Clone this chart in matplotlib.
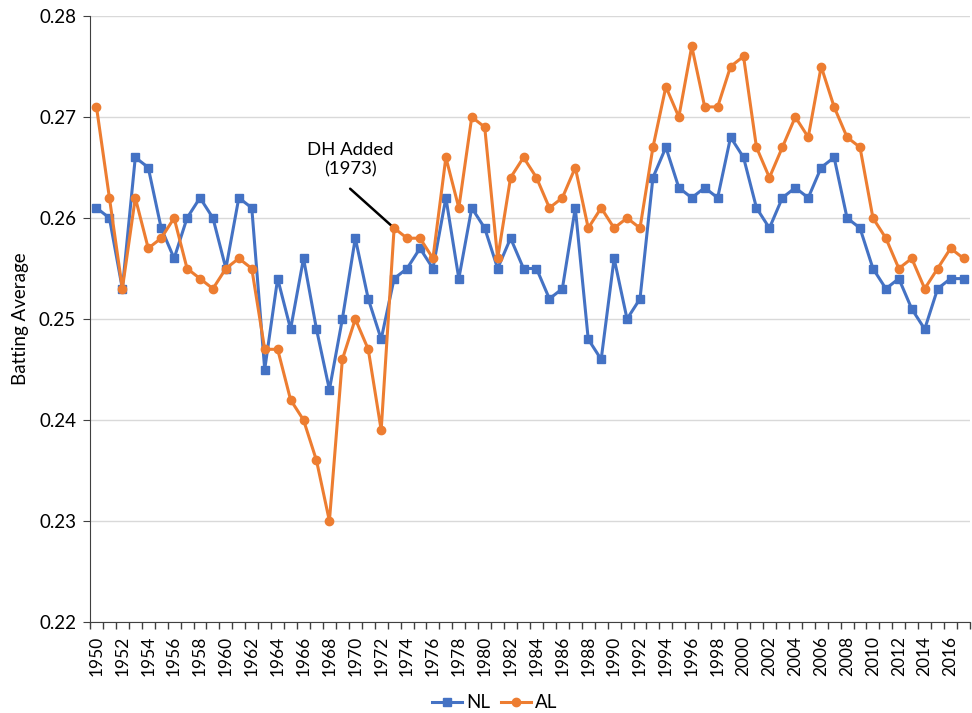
import matplotlib
matplotlib.use("Agg")
import matplotlib.pyplot as plt
import numpy as np

years = list(range(1950, 2018))

nl_avg = [
    0.261, 0.260, 0.253, 0.266, 0.265, 0.259, 0.256, 0.260, 0.262, 0.260,
    0.255, 0.262, 0.261, 0.245, 0.254, 0.249, 0.256, 0.249, 0.243, 0.250,
    0.258, 0.252, 0.248, 0.254, 0.255, 0.257, 0.255, 0.262, 0.254, 0.261,
    0.259, 0.255, 0.258, 0.255, 0.255, 0.252, 0.253, 0.261, 0.248, 0.246,
    0.256, 0.250, 0.252, 0.264, 0.267, 0.263, 0.262, 0.263, 0.262, 0.268,
    0.266, 0.261, 0.259, 0.262, 0.263, 0.262, 0.265, 0.266, 0.260, 0.259,
    0.255, 0.253, 0.254, 0.251, 0.249, 0.253, 0.254, 0.254,
]

al_avg = [
    0.271, 0.262, 0.253, 0.262, 0.257, 0.258, 0.260, 0.255, 0.254, 0.253,
    0.255, 0.256, 0.255, 0.247, 0.247, 0.242, 0.240, 0.236, 0.230, 0.246,
    0.250, 0.247, 0.239, 0.259, 0.258, 0.258, 0.256, 0.266, 0.261, 0.270,
    0.269, 0.256, 0.264, 0.266, 0.264, 0.261, 0.262, 0.265, 0.259, 0.261,
    0.259, 0.260, 0.259, 0.267, 0.273, 0.270, 0.277, 0.271, 0.271, 0.275,
    0.276, 0.267, 0.264, 0.267, 0.270, 0.268, 0.275, 0.271, 0.268, 0.267,
    0.260, 0.258, 0.255, 0.256, 0.253, 0.255, 0.257, 0.256,
]

y_ticks = [0.22, 0.23, 0.24, 0.25, 0.26, 0.27, 0.28]

plt.rcParams["font.family"] = ["Lato", "DejaVu Sans"]
FS = 13.5

fig = plt.figure(figsize=(9.72, 7.13), dpi=100)
ax = fig.add_axes([90 / 972, 1 - 622 / 713, (970 - 90) / 972, (622 - 16) / 713])

x = np.arange(len(years))
ax.plot(x, nl_avg, color="#4472C4", lw=2.2, marker="s", ms=6, label="NL", zorder=3)
ax.plot(x, al_avg, color="#ED7D31", lw=2.2, marker="o", ms=6, label="AL", zorder=4)

ax.set_xlim(-0.5, len(years) - 0.5)
ax.set_ylim(0.22, 0.28)
ax.set_yticks(y_ticks)
ax.set_yticklabels([f"{v:.2f}" for v in y_ticks], fontsize=FS)
ax.yaxis.grid(True, color="#d9d9d9", lw=1)
ax.set_axisbelow(True)

# category axis: tick marks between categories, labels on every other category
ax.set_xticks(np.arange(-0.5, len(years), 1.0))
ax.set_xticklabels([])
ax.set_xticks(x[::2], minor=True)
ax.set_xticklabels([str(y) for y in years[::2]], minor=True, rotation=90, fontsize=12.5)
ax.tick_params(axis="x", which="major", length=5, width=1, color="#404040", direction="out")
ax.tick_params(axis="x", which="minor", length=0, pad=10)
ax.tick_params(axis="y", length=5, color="#404040", pad=5)

for side in ["top", "right"]:
    ax.spines[side].set_visible(False)
ax.spines["left"].set_color("#404040")
ax.spines["bottom"].set_color("#404040")

ax.set_ylabel("Batting Average", fontsize=FS, labelpad=7)

# DH callout: label above, plain leader line down to the 1973 AL point
i73 = years.index(1973)
ax.text(x[i73] - 3.4, 0.2658, "DH Added\n(1973)", ha="center", va="center",
        fontsize=13.3, linespacing=1.25)
ax.annotate("", xy=(x[i73], al_avg[i73]), xytext=(x[i73] - 3.4, 0.2629),
            arrowprops=dict(arrowstyle="-", color="black", lw=1.8,
                            shrinkA=0, shrinkB=1))

fig.legend(loc="center", bbox_to_anchor=(0.509, 1 - 703 / 713), ncol=2, frameon=False,
           fontsize=FS, handlelength=1.6, columnspacing=0.6, handletextpad=0.2)

fig.savefig("out.png", dpi=100)
